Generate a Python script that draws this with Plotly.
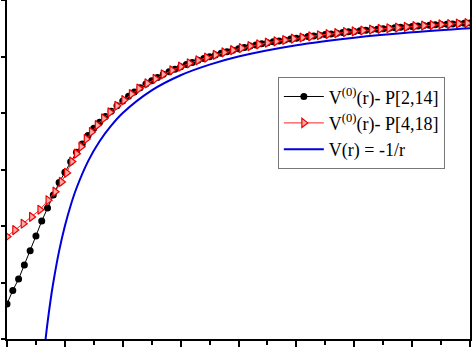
import plotly.graph_objects as go

# --- data ---
r_black = [round(0.1 * i, 1) for i in range(81)]
v_black = [-1.345, -1.285, -1.235, -1.173, -1.109, -1.044, -0.978, -0.920, -0.863, -0.808,
           -0.762, -0.716, -0.674, -0.637, -0.600, -0.568, -0.541, -0.516, -0.492, -0.468,
           -0.447, -0.426, -0.407, -0.388, -0.372, -0.357, -0.343, -0.329, -0.317, -0.306,
           -0.295, -0.285, -0.276, -0.267, -0.259, -0.251, -0.243, -0.236, -0.229, -0.222,
           -0.216, -0.210, -0.204, -0.199, -0.194, -0.189, -0.185, -0.181, -0.177, -0.173,
           -0.169, -0.166, -0.162, -0.159, -0.156, -0.153, -0.150, -0.147, -0.144, -0.141,
           -0.139, -0.136, -0.134, -0.131, -0.129, -0.127, -0.125, -0.123, -0.121, -0.119,
           -0.117, -0.115, -0.113, -0.112, -0.110, -0.108, -0.107, -0.106, -0.104, -0.103,
           -0.102]

r_red = [0.0, 0.135, 0.28, 0.425, 0.57, 0.71, 0.83, 0.94, 1.03, 1.12, 1.2, 1.28, 1.37, 1.46,
         1.56, 1.67, 1.78, 1.9, 2.02, 2.15, 2.28, 2.42, 2.56, 2.7, 2.85, 3.0, 3.15, 3.3, 3.45,
         3.6, 3.75, 3.9, 4.05, 4.2, 4.35, 4.5, 4.65, 4.8, 4.95, 5.1, 5.25, 5.4, 5.55, 5.7,
         5.85, 6.0, 6.15, 6.3, 6.45, 6.6, 6.75, 6.9, 7.05, 7.2, 7.35, 7.5, 7.65, 7.8, 7.95]
v_red = [-1.047, -1.018, -0.990, -0.960, -0.928, -0.886, -0.848, -0.805, -0.765, -0.715,
         -0.680, -0.649, -0.615, -0.584, -0.554, -0.524, -0.497, -0.468, -0.443, -0.416,
         -0.392, -0.369, -0.349, -0.329, -0.311, -0.295, -0.280, -0.267, -0.255, -0.243,
         -0.232, -0.222, -0.213, -0.204, -0.196, -0.189, -0.183, -0.177, -0.171, -0.166,
         -0.161, -0.156, -0.151, -0.147, -0.142, -0.139, -0.135, -0.131, -0.128, -0.125,
         -0.122, -0.119, -0.116, -0.113, -0.111, -0.108, -0.1065, -0.104, -0.1025]

r_blue = [0.66, 0.7, 0.75, 0.8, 0.9, 1.0, 1.1, 1.2, 1.4, 1.6, 1.8, 2.0, 2.5, 3.0, 3.5, 4.0,
          5.0, 6.0, 7.0, 8.0]
v_blue = [-1.515, -1.429, -1.333, -1.25, -1.111, -1.0, -0.909, -0.833, -0.714, -0.625,
          -0.556, -0.5, -0.4, -0.333, -0.286, -0.25, -0.2, -0.167, -0.143, -0.125]

names = ["V<sup>(0)</sup>(r)- P[2,14]", "V<sup>(0)</sup>(r)- P[4,18]", "V(r) = -1/r"]

fig = go.Figure()
fig.add_trace(go.Scatter(x=r_black, y=v_black, name=names[0], mode="lines+markers",
                         line=dict(color="black", width=1),
                         marker=dict(symbol="circle", size=7, color="black")))
fig.add_trace(go.Scatter(x=r_red, y=v_red, name=names[1], mode="lines+markers",
                         line=dict(color="#ff2020", width=1),
                         marker=dict(symbol="triangle-right", size=8, color="#ffa8a8",
                                     line=dict(color="#ee0000", width=1.2))))
fig.add_trace(go.Scatter(x=r_blue, y=v_blue, name=names[2], mode="lines",
                         line=dict(color="#0000dd", width=2, shape="spline")))

fig.update_layout(
    width=474, height=347,
    margin=dict(l=7, r=4, t=0, b=8),
    paper_bgcolor="white", plot_bgcolor="white",
    showlegend=True,
    legend=dict(x=0.585, y=0.772, xanchor="left", yanchor="top",
                bordercolor="#777777", borderwidth=1, bgcolor="white",
                font=dict(family="Liberation Serif", size=18, color="black"),
                tracegroupgap=0, itemwidth=40),
)
fig.update_xaxes(range=[0, 8], dtick=1, showgrid=False, zeroline=False,
                 showline=True, linecolor="black", linewidth=2, mirror=False,
                 ticks="outside", ticklen=8, tickwidth=1.5, tickcolor="black",
                 showticklabels=False,
                 minor=dict(dtick=0.5, ticks="outside", ticklen=4, tickwidth=1.5,
                            tickcolor="black", showgrid=False))
fig.update_yaxes(range=[-1.5, 0], dtick=0.25, showgrid=False, zeroline=False,
                 showline=True, linecolor="black", linewidth=2, mirror=True,
                 ticks="outside", ticklen=4, tickwidth=1.5, tickcolor="black",
                 showticklabels=False)

fig.write_html("out.html")
